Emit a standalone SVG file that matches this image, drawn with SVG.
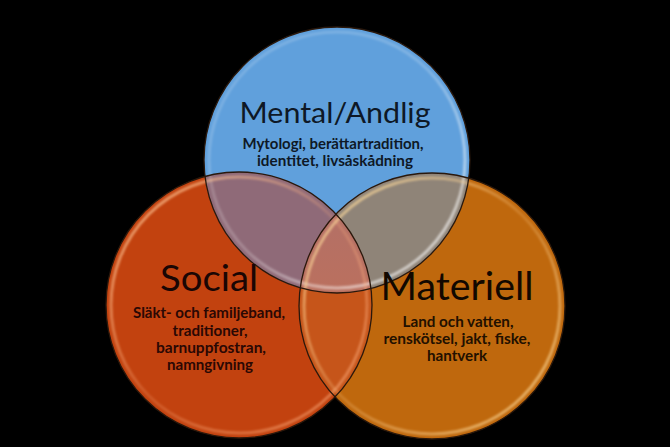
<svg xmlns="http://www.w3.org/2000/svg" width="670" height="447" viewBox="0 0 670 447">
<defs>
<style>
.title{font-family:Lato,"Liberation Sans",sans-serif;font-weight:400;text-anchor:middle}
.sub{font-family:Lato,"Liberation Sans",sans-serif;font-weight:700;font-size:15px;text-anchor:middle}
.outline{fill:none;stroke:#2a180c;stroke-width:1.3}
.shine{fill:none;stroke-width:3;filter:url(#soft)}
</style>
<filter id="soft" x="-10%" y="-10%" width="120%" height="120%"><feGaussianBlur stdDeviation="0.9"/></filter>
<clipPath id="cBlue"><circle cx="337" cy="160" r="133"/></clipPath>
<clipPath id="cRed"><circle cx="239" cy="305" r="133"/></clipPath>
<clipPath id="cOrange"><circle cx="432" cy="306" r="133"/></clipPath>
<linearGradient id="gShineBlue" x1="0" y1="0" x2="1" y2="1">
<stop offset="0" stop-color="#fff" stop-opacity="0.15"/>
<stop offset="0.5" stop-color="#fff" stop-opacity="0.2"/>
<stop offset="1" stop-color="#fff" stop-opacity="0.75"/>
</linearGradient>
<linearGradient id="gShineRed" x1="0" y1="0" x2="1" y2="1">
<stop offset="0" stop-color="#ffd0a0" stop-opacity="0.8"/>
<stop offset="0.5" stop-color="#ffb080" stop-opacity="0.2"/>
<stop offset="1" stop-color="#ffb080" stop-opacity="0.6"/>
</linearGradient>
<linearGradient id="gShineOrange" x1="0" y1="0" x2="1" y2="1">
<stop offset="0" stop-color="#ffe0a0" stop-opacity="0.8"/>
<stop offset="0.5" stop-color="#ffd090" stop-opacity="0.2"/>
<stop offset="1" stop-color="#ffe0a0" stop-opacity="0.75"/>
</linearGradient>
<linearGradient id="gTriple" x1="0" y1="0" x2="0" y2="1">
<stop offset="0" stop-color="#b0706a"/>
<stop offset="0.7" stop-color="#c07058"/>
<stop offset="1" stop-color="#c86a3a"/>
</linearGradient>
</defs>
<rect width="670" height="447" fill="#000"/>

<g id="red-circle">
<circle cx="239" cy="305" r="133" fill="#c2420f"/>
</g>
<g id="orange-circle">
<circle cx="432" cy="306" r="133" fill="#bf680d"/>
</g>
<g id="blue-circle">
<circle cx="337" cy="160" r="133" fill="#60a0dc"/>
</g>

<g id="overlaps">
<circle cx="239" cy="305" r="133" fill="#8f6a78" clip-path="url(#cBlue)"/>
<circle cx="432" cy="306" r="133" fill="#8f8478" clip-path="url(#cBlue)"/>
<circle cx="432" cy="306" r="133" fill="#c6551a" clip-path="url(#cRed)"/>
<g clip-path="url(#cBlue)"><circle cx="239" cy="305" r="133" fill="url(#gTriple)" clip-path="url(#cOrange)"/></g>
</g>

<g id="bevels">
<circle class="shine" cx="337" cy="160" r="128" stroke="url(#gShineBlue)"/>
<circle class="shine" cx="239" cy="305" r="128" stroke="url(#gShineRed)"/>
<circle class="shine" cx="432" cy="306" r="128" stroke="url(#gShineOrange)"/>
</g>

<g id="connectors">
<circle class="outline" cx="239" cy="305" r="133"/>
<circle class="outline" cx="432" cy="306" r="133"/>
<circle class="outline" cx="337" cy="160" r="133"/>
</g>

<g id="mental">
<text class="title" x="335" y="123" font-size="28" fill="#0e1826" textLength="191" lengthAdjust="spacingAndGlyphs">Mental/Andlig</text>
<text class="sub" x="333" y="149" fill="#0e1826" textLength="181" lengthAdjust="spacingAndGlyphs">Mytologi, berättartradition,</text>
<text class="sub" x="335" y="166" fill="#0e1826" textLength="156" lengthAdjust="spacingAndGlyphs">identitet, livsåskådning</text>
</g>
<g id="social">
<text class="title" x="209" y="291" font-size="37" fill="#1a0604" textLength="98" lengthAdjust="spacingAndGlyphs">Social</text>
<text class="sub" x="209" y="318" fill="#2a0804" textLength="152" lengthAdjust="spacingAndGlyphs">Släkt- och familjeband,</text>
<text class="sub" x="210" y="336" fill="#2a0804" textLength="75" lengthAdjust="spacingAndGlyphs">traditioner,</text>
<text class="sub" x="211" y="353" fill="#2a0804" textLength="110" lengthAdjust="spacingAndGlyphs">barnuppfostran,</text>
<text class="sub" x="210" y="370" fill="#2a0804" textLength="86" lengthAdjust="spacingAndGlyphs">namngivning</text>
</g>
<g id="materiell">
<text class="title" x="457" y="300" font-size="38" fill="#120800" textLength="153" lengthAdjust="spacingAndGlyphs">Materiell</text>
<text class="sub" x="458" y="327" fill="#221000" textLength="111" lengthAdjust="spacingAndGlyphs">Land och vatten,</text>
<text class="sub" x="457" y="344" fill="#221000" textLength="147" lengthAdjust="spacingAndGlyphs">renskötsel, jakt, fiske,</text>
<text class="sub" x="457" y="361" fill="#221000" textLength="60" lengthAdjust="spacingAndGlyphs">hantverk</text>
</g>
</svg>
